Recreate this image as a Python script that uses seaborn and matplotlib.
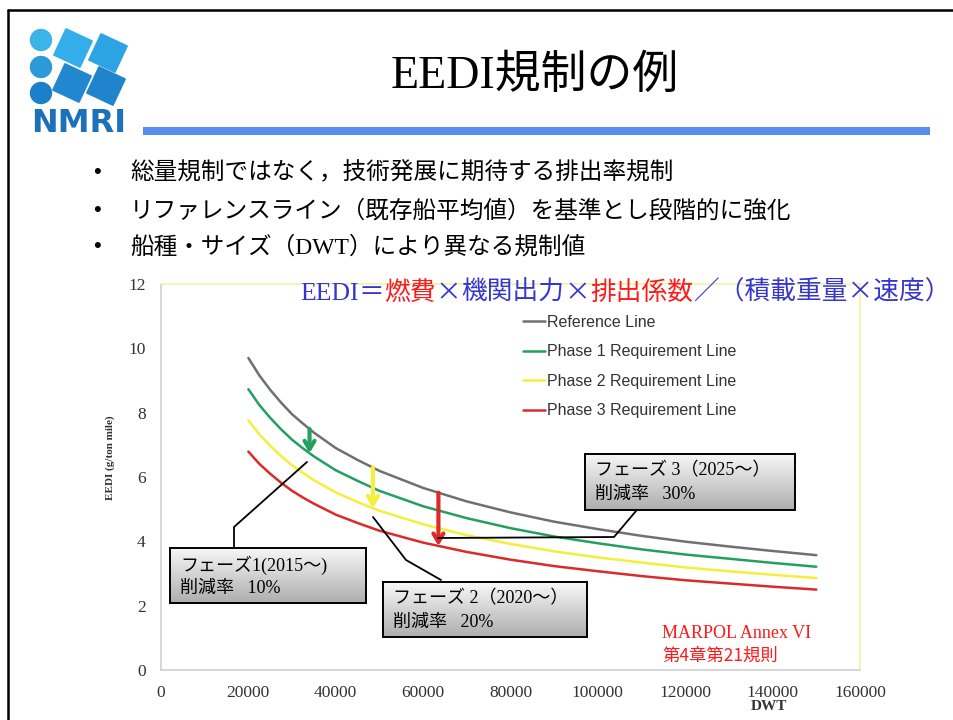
import numpy as np
import pandas as pd
import matplotlib
matplotlib.use("Agg")
import matplotlib.pyplot as plt
import matplotlib.patches as mpatches
from matplotlib.lines import Line2D
from matplotlib.transforms import Affine2D
from matplotlib.colors import LinearSegmentedColormap
from matplotlib.offsetbox import TextArea, HPacker, AnnotationBbox
import seaborn as sns

# ---------------- data ----------------
dwt = [20000, 22500, 25000, 27500, 30000, 32500, 35000, 40000, 45000, 50000,
       60000, 70000, 80000, 90000, 100000, 110000, 120000, 130000, 140000, 150000]
reference = [9.70, 9.16, 8.71, 8.31, 7.95, 7.66, 7.38, 6.90, 6.53, 6.19,
             5.66, 5.24, 4.90, 4.61, 4.38, 4.17, 3.99, 3.84, 3.70, 3.57]
phase1 = [8.73, 8.24, 7.84, 7.48, 7.16, 6.89, 6.64, 6.21, 5.88, 5.57,
          5.09, 4.72, 4.41, 4.15, 3.94, 3.75, 3.59, 3.46, 3.33, 3.21]
phase2 = [7.76, 7.33, 6.97, 6.65, 6.36, 6.13, 5.90, 5.52, 5.22, 4.95,
          4.53, 4.19, 3.92, 3.69, 3.50, 3.34, 3.19, 3.07, 2.96, 2.86]
phase3 = [6.79, 6.41, 6.10, 5.82, 5.57, 5.36, 5.17, 4.83, 4.57, 4.33,
          3.96, 3.67, 3.43, 3.23, 3.07, 2.92, 2.79, 2.69, 2.59, 2.50]
series_names = ["Reference Line", "Phase 1 Requirement Line",
                "Phase 2 Requirement Line", "Phase 3 Requirement Line"]
series_colors = ["#707070", "#22a060", "#f3ef3a", "#dc2a2a"]
arrow_dwt = [34000, 48500, 63500]
xticks = [0, 20000, 40000, 60000, 80000, 100000, 120000, 140000, 160000]
yticks = [0, 2, 4, 6, 8, 10, 12]

title = "EEDI規制の例"
bullets = ["総量規制ではなく，技術発展に期待する排出率規制",
           "リファレンスライン（既存船平均値）を基準とし段階的に強化",
           "船種・サイズ（DWT）により異なる規制値"]
box_lines = [("フェーズ1(2015〜)", "削減率   10%"),
             ("フェーズ 2（2020〜）", "削減率   20%"),
             ("フェーズ 3（2025〜）", "削減率   30%")]

# ---------------- figure ----------------
W, H = 954, 720
sns.set_theme(style="white")
plt.rcParams['font.family'] = ['Liberation Serif', 'Noto Sans CJK JP', 'DejaVu Sans']
MIX = ['Liberation Serif', 'Noto Sans CJK JP']
GOTH = ['Noto Sans CJK JP', 'DejaVu Sans']

fig = plt.figure(figsize=(W / 100, H / 100), dpi=100, facecolor="white")
T = Affine2D().scale(1, -1).translate(0, H).scale(1 / W, 1 / H) + fig.transFigure

# slide frame
fig.add_artist(Line2D([8, W], [10, 10], color="black", lw=1.8, transform=T))
fig.add_artist(Line2D([8, 8], [10, H], color="black", lw=1.8, transform=T))

# logo
for cy, col in zip([40, 67, 93], ["#3cb4ea", "#2a9ad9", "#1c7fca"]):
    fig.add_artist(mpatches.Circle((41, cy), 10.5, color=col, transform=T))
for (cx, cy), col in zip([(73, 48), (108, 53), (72, 83), (106, 86)],
                         ["#33aeea", "#2ca4e4", "#2188d0", "#1f84cc"]):
    s = 29
    fig.add_artist(mpatches.Rectangle((cx - s / 2, cy - s / 2), s, s, angle=25,
                                      rotation_point='center', color=col, transform=T))
fig.text(79, 124, "NMRI", transform=T, ha="center", va="center", fontsize=23,
         family=['DejaVu Sans'], color="#1c72b8", weight="bold")

# title + bar
fig.text(535, 77, title, transform=T, ha="center", va="center", fontsize=33,
         family=MIX, color="black")
fig.add_artist(mpatches.Rectangle((143, 127), 787, 8, color="#5a8cf0", transform=T, lw=0))

# bullets
for yy, b in zip([173, 211, 247], bullets):
    fig.text(97, yy, "•", transform=T, ha="center", va="center", fontsize=16,
             family=['Liberation Sans'], color="black")
    fig.text(130, yy, b, transform=T, ha="left", va="center", fontsize=17,
             family=MIX, color="black")

# ---------------- chart ----------------
ax = fig.add_axes([161 / W, 1 - 670 / H, 699 / W, 386 / H])
df = pd.DataFrame({
    "DWT": dwt * 4,
    "EEDI": reference + phase1 + phase2 + phase3,
    "series": sum([[n] * len(dwt) for n in series_names], []),
})
sns.lineplot(data=df, x="DWT", y="EEDI", hue="series", hue_order=series_names,
             palette=dict(zip(series_names, series_colors)), lw=1.8, ax=ax)
ax.set_xlim(0, 160000)
ax.set_ylim(0, 12)
ax.set_xticks(xticks)
ax.set_xticklabels([str(t) for t in xticks])
ax.set_yticks(yticks)
ax.set_yticklabels([str(t) for t in yticks])
ax.tick_params(length=0, labelsize=12.5, labelcolor="#333333")
ax.tick_params(axis="x", pad=11)
ax.tick_params(axis="y", pad=11)
for lab in ax.get_xticklabels() + ax.get_yticklabels():
    lab.set_family(['Liberation Serif'])
ax.spines["left"].set_color("#cfcfcf")
ax.spines["bottom"].set_color("#cfcfcf")
ax.spines["top"].set_color("#eef3a8")
ax.spines["right"].set_color("#f3f3a0")
for sp in ax.spines.values():
    sp.set_linewidth(1.2)
ax.grid(False)

ax.set_xlabel("DWT", fontsize=11, weight="bold", family=['Liberation Serif'], color="#333333")
ax.xaxis.set_label_coords((769 - 161) / 699, (670 - 700) / 386)
ax.set_ylabel("EEDI (g/ton mile)", fontsize=8, weight="bold", family=['Liberation Serif'], color="#333333")
ax.yaxis.set_label_coords((115 - 161) / 699, (670 - 458) / 386)

leg = ax.legend(loc="upper left", bbox_to_anchor=(523 / W, 1 - 315 / H),
                bbox_transform=fig.transFigure, frameon=False, borderpad=0,
                borderaxespad=0, handlelength=1.4, handletextpad=0.1,
                labelspacing=0.9, prop={'family': 'Liberation Sans', 'size': 11.5})
for t in leg.get_texts():
    t.set_color("#333333")
for h in leg.get_lines():
    h.set_linewidth(1.8)

# reduction arrows (from reference line to each phase line)
for xa, ser, col in zip(arrow_dwt, [phase1, phase2, phase3], series_colors[1:]):
    y0 = np.interp(xa, dwt, reference)
    y1 = np.interp(xa, dwt, ser)
    ax.annotate("", xy=(xa, y1), xytext=(xa, y0),
                arrowprops=dict(arrowstyle="->,head_length=0.5,head_width=0.3",
                                lw=3, color=col, shrinkA=0, shrinkB=0))

# formula
parts = [("EEDI", "#3535d0", MIX), ("＝", "#3535d0", GOTH), ("燃費", "#ff1a1a", GOTH),
         ("×", "#3535d0", GOTH), ("機関出力", "#3535d0", GOTH), ("×", "#3535d0", GOTH),
         ("排出係数", "#ff1a1a", GOTH), ("／（積載重量×速度）", "#3535d0", GOTH)]
areas = [TextArea(s, textprops=dict(color=c, fontsize=18.5, family=f)) for s, c, f in parts]
hp = HPacker(children=areas, align="baseline", pad=0, sep=0)
ab = AnnotationBbox(hp, (300 / W, 1 - 293 / H), xycoords="figure fraction",
                    box_alignment=(0, 0.5), frameon=False, pad=0)
ab.set_zorder(8)
fig.add_artist(ab)

# leader lines
for xs, ys in [([234, 234, 307], [548, 527, 462]),
               ([373, 406, 441], [517, 560, 580]),
               ([438, 614, 636], [538, 537, 511])]:
    ln = Line2D(xs, ys, color="black", lw=1.3, transform=T)
    ln.set_zorder(4)
    fig.add_artist(ln)

# callout boxes
cmap = LinearSegmentedColormap.from_list("g", ["#f8f8f8", "#aeaeae"])
grad = np.linspace(0, 1, 100).reshape(-1, 1)
boxes = [(170, 548, 366, 603), (383, 582, 587, 637), (585, 454, 795, 510)]
for (x0, y0, x1, y1), (l1, l2) in zip(boxes, box_lines):
    bax = fig.add_axes([x0 / W, 1 - y1 / H, (x1 - x0) / W, (y1 - y0) / H])
    bax.set_zorder(5)
    bax.imshow(grad, cmap=cmap, aspect="auto", extent=[0, 1, 0, 1], origin="upper")
    bax.set_xticks([]); bax.set_yticks([])
    for sp in bax.spines.values():
        sp.set_visible(True); sp.set_color("black"); sp.set_linewidth(1.4)
    t1 = fig.text(x0 + 10, y0 + 17, l1, transform=T, ha="left", va="center",
                  fontsize=13, family=MIX, color="black")
    t2 = fig.text(x0 + 10, y0 + 40, l2, transform=T, ha="left", va="center",
                  fontsize=13, family=MIX, color="black")
    t1.set_zorder(10); t2.set_zorder(10)

# source note
fig.text(662, 634, "MARPOL Annex VI", transform=T, ha="left", va="center",
         fontsize=13, family=MIX, color="#ff1a1a")
fig.text(662, 656, "第4章第21規則", transform=T, ha="left", va="center",
         fontsize=12.5, family=GOTH, color="#ff1a1a")

fig.savefig("out.png", dpi=100, facecolor="white")
